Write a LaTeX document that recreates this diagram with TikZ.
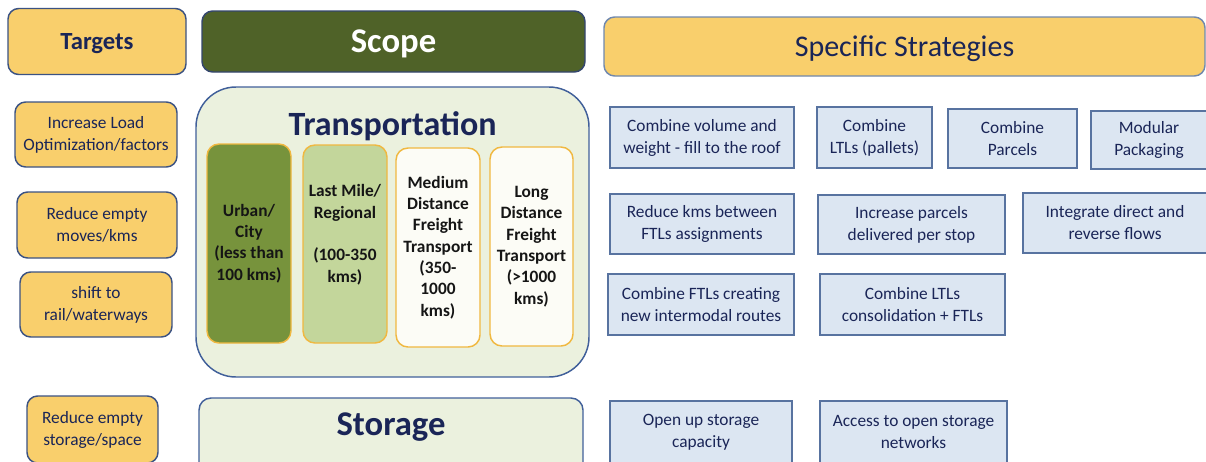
\documentclass[tikz,border=0pt]{standalone}
\usepackage{fontspec}
\setmainfont{Carlito}
\definecolor{tgtfill}{HTML}{F9CF6C}
\definecolor{tgtline}{HTML}{3B5283}
\definecolor{navy}{HTML}{1A2557}
\definecolor{stratfill}{HTML}{DCE6F2}
\definecolor{stratline}{HTML}{5873A0}
\definecolor{transfill}{HTML}{EBF1DE}
\definecolor{transline}{HTML}{41609A}
\definecolor{scopefill}{HTML}{4F6228}
\definecolor{scopeline}{HTML}{34466E}
\definecolor{specline}{HTML}{7088AE}
\definecolor{colline}{HTML}{F0B840}
\definecolor{urbanfill}{HTML}{77933C}
\definecolor{lastfill}{HTML}{C3D69B}
\definecolor{medfill}{HTML}{FCFCF6}
\definecolor{coltext}{HTML}{151515}
\tikzset{box/.style 2 args = {draw, align=center, inner sep=0pt, line width=1.1pt,
                              minimum width={#1*0.75pt}, minimum height={#2*0.75pt}}}
\tikzset{tgt/.style = {fill=tgtfill, draw=tgtline, rounded corners=8pt, text=navy,
                       font=\fontsize{13}{16.5}\selectfont}}
\tikzset{strat/.style = {fill=stratfill, draw=stratline, text=navy,
                         font=\fontsize{13}{16.5}\selectfont}}
\tikzset{col/.style = {draw=colline, rounded corners=9pt, text=coltext,
                       font=\bfseries\fontsize{13}{16}\selectfont}}

\begin{document}
\begin{tikzpicture}[x = 0.75pt, y = -0.75pt]
      \useasboundingbox (0, 0) rectangle (1206, 461);
      \clip (0, 0) rectangle (1206, 461);
      \node [box={178}{66}, tgt, text depth=0pt, font=\bfseries\fontsize{18.5}{22}\selectfont] (targets) at (97, 41.5) {Targets};
      \node [box={383}{61}, fill=scopefill, draw=scopeline, rounded corners=8pt, text=white, text depth=0pt,
             font=\bfseries\fontsize{26}{30}\selectfont] (scope) at (393.5, 41.5) {Scope};
      \node [box={601}{59}, tgt, draw=specline, text depth=0pt, font=\fontsize{22.5}{27}\selectfont] (specific) at (904.5, 46.5) {Specific Strategies};

      \node [box={162}{65}, tgt] (load) at (96, 134.5) {Increase Load\\Optimization/factors};
      \node [box={160}{66}, tgt] (empty) at (97, 225) {Reduce empty\\moves/kms};
      \node [box={152}{65}, tgt] (shift) at (96, 304.5) {shift to\\rail/waterways};
      \node [box={131}{67}, tgt] (space) at (92.5, 429.5) {Reduce empty\\storage/space};

      \node [box={393}{290}, fill=transfill, draw=transline, rounded corners=30pt] (transport) at (392.5, 232) {};
      \node [text=navy, font=\bfseries\fontsize{25.5}{30}\selectfont, inner sep=0pt] (transtitle) at (392.5, 126) {Transportation};
      \node [box={84}{199}, col, fill=urbanfill] (urban) at (249, 243.5) {Urban/\\City\\(less than\\100 kms)};
      \node [box={84}{198}, col, fill=lastfill] (lastmile) at (345, 244) {Last Mile/\\Regional\\~\\(100-350\\kms)\\~};
      \node [box={84}{199}, col, fill=medfill] (medium) at (438, 247.5) {Medium\\Distance\\Freight\\Transport\\(350-\\1000\\kms)};
      \node [box={83}{199}, col, fill=medfill] (long) at (531.5, 246.5) {Long\\Distance\\Freight\\Transport\\(>1000\\kms)};

      \node [box={384}{77}, fill=transfill, draw=transline, rounded corners=9pt] (storage) at (391, 436.5) {};
      \node [text=navy, font=\bfseries\fontsize{26}{30}\selectfont, inner sep=0pt] (storetitle) at (391, 427) {Storage};

      \node [box={184}{61}, strat] (volume) at (702, 137.5) {Combine volume and\\weight - fill to the roof};
      \node [box={115}{61}, strat] (pallets) at (874.5, 137.5) {Combine\\LTLs (pallets)};
      \node [box={129}{59}, strat] (parcels) at (1012.5, 138.5) {Combine\\Parcels};
      \node [box={116}{58}, strat] (modular) at (1149, 140) {Modular\\Packaging};
      \node [box={184}{60}, strat] (kms) at (702, 224) {Reduce kms between\\FTLs assignments};
      \node [box={187}{59}, strat] (perstop) at (911.5, 224.5) {Increase parcels\\delivered per stop};
      \node [box={184}{60}, strat] (flows) at (1115, 223) {Integrate direct and\\reverse flows};
      \node [box={186}{61}, strat] (intermodal) at (701, 304.5) {Combine FTLs creating\\new intermodal routes};
      \node [box={185}{61}, strat] (consol) at (912.5, 304.5) {Combine LTLs\\consolidation + FTLs};
      \node [box={182}{62}, strat] (capacity) at (701, 432) {Open up storage\\capacity};
      \node [box={187}{62}, strat] (networks) at (913.5, 432) {Access to open storage\\networks};
    \end{tikzpicture}
\end{document}
